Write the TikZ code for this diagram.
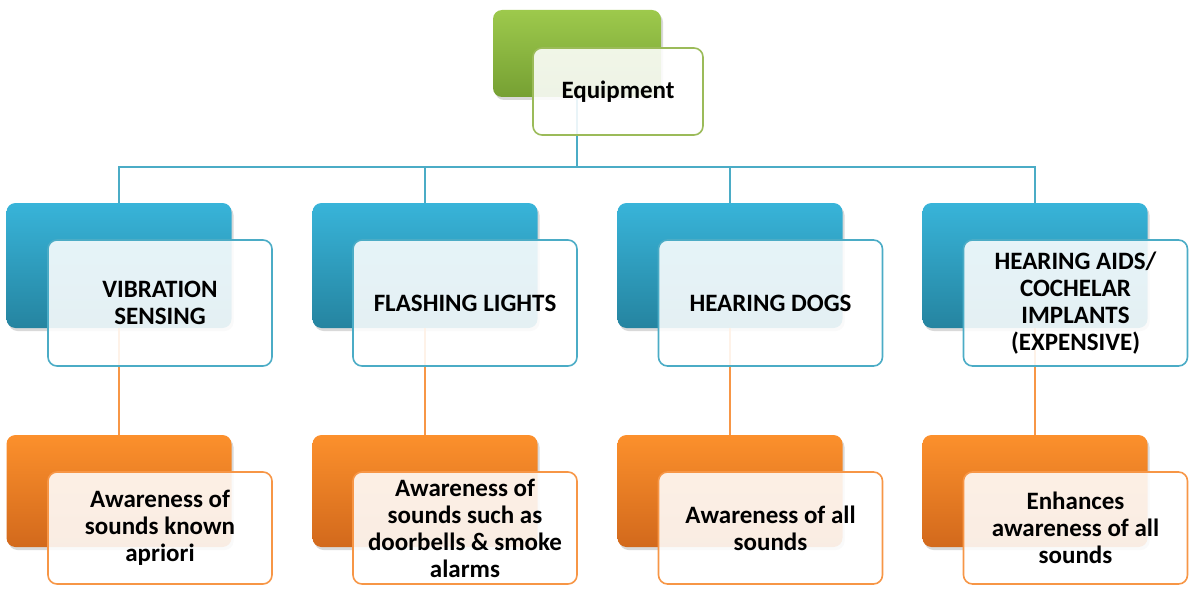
\documentclass[tikz,border=0pt]{standalone}
\usepackage{fontspec}
\setmainfont{Carlito}
\usetikzlibrary{shadows}
\definecolor{gtop}{HTML}{9DC94C}
\definecolor{gbot}{HTML}{76A033}
\definecolor{gline}{HTML}{9BBB59}
\definecolor{btop}{HTML}{38B4D9}
\definecolor{bbot}{HTML}{2584A0}
\definecolor{bline}{HTML}{4BACC6}
\definecolor{otop}{HTML}{FC902C}
\definecolor{obot}{HTML}{D2691C}
\definecolor{oline}{HTML}{F79646}
\tikzset{
  backbox/.style={rounded corners=9pt, inner sep=0pt,
    drop shadow={shadow xshift=2pt, shadow yshift=-3pt, opacity=0.3}},
  frontbox/.style={rounded corners=9pt, inner sep=2pt, fill=white, fill opacity=0.88,
    text opacity=1, line width=1.6pt, align=center, text=black,
    font=\fontsize{25}{27}\selectfont\bfseries},
  gback/.style={backbox, minimum width=168pt, minimum height=87pt, top color=gtop, bottom color=gbot},
  gfront/.style={frontbox, draw=gline, minimum width=170pt, minimum height=87pt},
  bback/.style={backbox, minimum width=225pt, minimum height=125pt, top color=btop, bottom color=bbot},
  bfront/.style={frontbox, draw=bline, minimum width=224pt, minimum height=126pt},
  oback/.style={backbox, minimum width=225pt, minimum height=112pt, top color=otop, bottom color=obot},
  ofront/.style={frontbox, draw=oline, minimum width=224pt, minimum height=112pt},
  bconn/.style={draw=bline, line width=1.6pt},
  oconn/.style={draw=oline, line width=1.6pt},
}
\begin{document}
\begin{tikzpicture}[x=1pt, y=-1pt]
\useasboundingbox (0,0) rectangle (1189,599);
% coordinates for layout
\coordinate (hub) at (577,167);
% back boxes
\node[gback] (g0) at (577,53.5) {};
\node[bback] (b1) at (119,265.5) {};
\node[bback] (b2) at (425,265.5) {};
\node[bback] (b3) at (730,265.5) {};
\node[bback] (b4) at (1035,265.5) {};
\node[oback] (o1) at (119,491) {};
\node[oback] (o2) at (425,491) {};
\node[oback] (o3) at (730,491) {};
\node[oback] (o4) at (1035,491) {};
% connectors
\draw[bconn] (g0.south) -- (hub);
\draw[bconn] (hub) -| (b1.north);
\draw[bconn] (hub) -| (b2.north);
\draw[bconn] (hub) -| (b3.north);
\draw[bconn] (hub) -| (b4.north);
\draw[oconn] (b1.south) -- (o1.north);
\draw[oconn] (b2.south) -- (o2.north);
\draw[oconn] (b3.south) -- (o3.north);
\draw[oconn] (b4.south) -- (o4.north);
% front boxes
\node[gfront] (g0f) at (618,91.5) {Equipment};
\node[bfront] (b1f) at (160,303) {VIBRATION\\SENSING};
\node[bfront] (b2f) at (465,303) {FLASHING LIGHTS};
\node[bfront] (b3f) at (770.5,303) {HEARING DOGS};
\node[bfront] (b4f) at (1075.5,303) {HEARING AIDS/\\COCHELAR\\IMPLANTS\\(EXPENSIVE)};
\node[ofront] (o1f) at (160,528) {Awareness of\\sounds known\\apriori};
\node[ofront] (o2f) at (465,528) {Awareness of\\sounds such as\\doorbells \& smoke\\alarms};
\node[ofront] (o3f) at (770.5,528) {Awareness of all\\sounds};
\node[ofront] (o4f) at (1075.5,528) {Enhances\\awareness of all\\sounds};
\end{tikzpicture}
\end{document}
